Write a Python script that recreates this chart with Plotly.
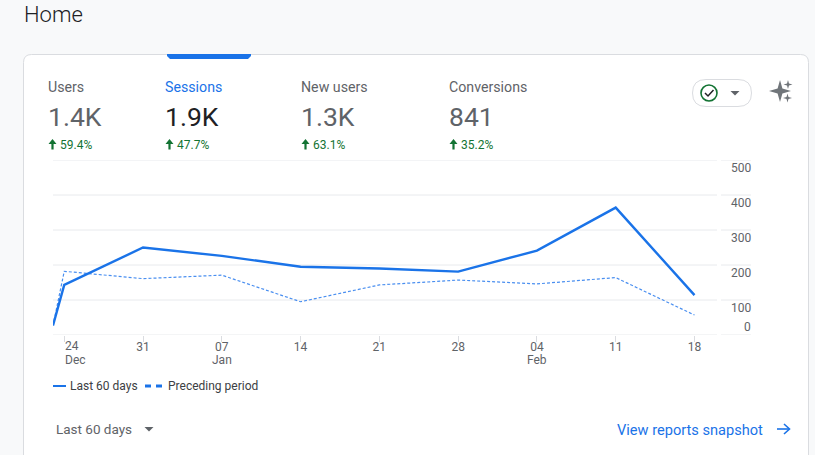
import plotly.graph_objects as go

W, H = 815, 455

dates = ["2023-12-23", "2023-12-24", "2023-12-31", "2024-01-07", "2024-01-14",
         "2024-01-21", "2024-01-28", "2024-02-04", "2024-02-11", "2024-02-18"]
last_60_days = [27, 143, 250, 226, 195, 190, 181, 241, 364, 114]
preceding_period = [27, 182, 161, 171, 95, 143, 157, 146, 164, 57]

tick_dates = ["2023-12-24", "2023-12-31", "2024-01-07", "2024-01-14", "2024-01-21",
              "2024-01-28", "2024-02-04", "2024-02-11", "2024-02-18"]
tick_labels = ["", "31", "07", "14", "21", "28", "04", "11", "18"]
month_dates = ["2024-01-07", "2024-02-04"]
month_labels = ["Jan", "Feb"]
y_ticks = [0, 100, 200, 300, 400, 500]

metric_names = ["Users", "Sessions", "New users", "Conversions"]
metric_values = ["1.4K", "1.9K", "1.3K", "841"]
metric_changes = ["59.4%", "47.7%", "63.1%", "35.2%"]
metric_left = [48, 165, 301, 449]

BLUE = "#1a73e8"
GREY = "#5f6368"
GREEN = "#137333"
FONT = "Roboto"


def fx(v):
    return v / W


def fy(v):
    return 1 - v / H


def label(x, y, text, size=12, color=GREY, anchor="left", weight=400, family=FONT):
    return dict(x=fx(x), y=fy(y), xref="paper", yref="paper", text=text, showarrow=False,
                xanchor=anchor, yanchor="middle", borderpad=0, borderwidth=0,
                font=dict(family=family, size=size, color=color, weight=weight))


def path(points, close=True):
    d = "M " + " L ".join(f"{fx(a):.5f},{fy(b):.5f}" for a, b in points)
    return d + (" Z" if close else "")


fig = go.Figure()
fig.add_trace(go.Scatter(x=dates, y=preceding_period, name="Preceding period", mode="lines",
                         line=dict(color="#4a8ff0", width=1.2, dash="3px,2px")))
fig.add_trace(go.Scatter(x=dates, y=last_60_days, name="Last 60 days", mode="lines",
                         line=dict(color=BLUE, width=2.4)))

# card background, tab marker
x0, x1, y0, y1, r = fx(23.5), fx(808.5), fy(54.5), fy(470), 8 / W
ry = 8 / H
card = (f"M {x0},{y1} L {x0},{y0 - ry} Q {x0},{y0} {x0 + r},{y0} "
        f"L {x1 - r},{y0} Q {x1},{y0} {x1},{y0 - ry} L {x1},{y1} Z")
shapes = [dict(type="path", xref="paper", yref="paper", path=card, fillcolor="white",
               line=dict(color="#dadce0", width=1), layer="below")]
shapes.append(dict(type="path", xref="paper", yref="paper", fillcolor=BLUE, line_width=0,
                   path=path([(167, 54), (251, 54), (251, 56), (248, 59), (170, 59), (167, 56)])))

# grid lines drawn by hand: the plot part plus the stub under the y labels
for t in y_ticks:
    for a, b in [(53, 717), (721, 751)]:
        shapes.append(dict(type="line", xref="paper", yref="y", x0=fx(a), x1=fx(b), y0=t, y1=t,
                           line=dict(color="#e8eaed", width=1), layer="below"))

# legend
shapes.append(dict(type="line", xref="paper", yref="paper", x0=fx(53), x1=fx(66), y0=fy(386), y1=fy(386),
                   line=dict(color=BLUE, width=2)))
for a, b in [(145, 151), (156, 162)]:
    shapes.append(dict(type="line", xref="paper", yref="paper", x0=fx(a), x1=fx(b), y0=fy(386), y1=fy(386),
                       line=dict(color=BLUE, width=3)))

# dropdown pill, check icon, triangles
px0, px1, py0, py1 = fx(692.5), fx(751.5), fy(79.5), fy(106.5)
rx, rr = 13.5 / W, 13.5 / H
pill = (f"M {px0 + rx},{py0} L {px1 - rx},{py0} Q {px1},{py0} {px1},{py0 - rr} Q {px1},{py1} {px1 - rx},{py1} "
        f"L {px0 + rx},{py1} Q {px0},{py1} {px0},{py1 + rr} Q {px0},{py0} {px0 + rx},{py0} Z")
shapes.append(dict(type="path", xref="paper", yref="paper", path=pill,
                   line=dict(color="#dadce0", width=1), fillcolor="white", layer="below"))
shapes.append(dict(type="circle", xref="paper", yref="paper", x0=fx(701), x1=fx(717), y0=fy(85), y1=fy(101),
                   line=dict(color=GREEN, width=1.6)))
shapes.append(dict(type="path", xref="paper", yref="paper", line=dict(color="#202124", width=1.5),
                   path=path([(705, 93), (708, 96), (713.5, 90)], close=False)))
for cx, cy in [(735, 93), (149, 429)]:
    shapes.append(dict(type="path", xref="paper", yref="paper", fillcolor=GREY, line_width=0,
                       path=path([(cx - 4.5, cy - 2), (cx + 4.5, cy - 2), (cx, cy + 2.5)])))

# sparkle icon
for cx, cy, s in [(780, 91, 11), (788, 84.5, 4.5), (787.5, 98, 4.5)]:
    k = s * 0.22
    shapes.append(dict(type="path", xref="paper", yref="paper", fillcolor="#70757a", line_width=0,
                       path=path([(cx, cy - s), (cx + k, cy - k), (cx + s, cy), (cx + k, cy + k),
                                  (cx, cy + s), (cx - k, cy + k), (cx - s, cy), (cx - k, cy - k)])))

# link arrow
shapes.append(dict(type="path", xref="paper", yref="paper", line=dict(color=BLUE, width=1.6),
                   path=path([(777, 429), (789, 429)], close=False)))
shapes.append(dict(type="path", xref="paper", yref="paper", line=dict(color=BLUE, width=1.6),
                   path=path([(784, 424), (789.5, 429), (784, 434)], close=False)))

annotations = [label(24, 15, "Home", size=22, color="#202124", weight=300)]
for i, name in enumerate(metric_names):
    left = metric_left[i]
    selected = name == "Sessions"
    annotations.append(label(left - 0.5 if selected else left, 87.5, name, size=14.2, color=BLUE if selected else GREY))
    annotations.append(label(left, 116.5, metric_values[i], size=26.5,
                             color="#202124" if selected else GREY))
    # up arrow icon
    ax = left + 4.5
    shapes.append(dict(type="path", xref="paper", yref="paper", fillcolor=GREEN, line_width=0,
                       path=path([(ax, 139), (ax + 4, 144), (ax + 1.1, 144), (ax + 1.1, 149.5),
                                  (ax - 1.1, 149.5), (ax - 1.1, 144), (ax - 4, 144)])))
    annotations.append(label(left + 12, 144.5, metric_changes[i], size=12, color=GREEN))

for t in y_ticks:
    annotations.append(dict(x=fx(752), y=t, xref="paper", yref="y", text=str(t), showarrow=False,
                            xanchor="right", yanchor="bottom" if t == 0 else "top",
                            yshift=0, borderpad=0,
                            font=dict(family=FONT, size=12, color=GREY)))

for d, m in zip(month_dates, month_labels):
    annotations.append(dict(x=d, y=fy(359.5), xref="x", yref="paper", text=m, showarrow=False,
                            xanchor="center", yanchor="middle", borderpad=0,
                            font=dict(family=FONT, size=12, color=GREY)))

annotations.append(label(65, 346, "24", size=12))
annotations.append(label(65, 359.5, "Dec", size=12))
annotations.append(label(70, 386, "Last 60 days", size=12, color="#3c4043"))
annotations.append(label(168, 386, "Preceding period", size=12, color="#3c4043"))
annotations.append(label(56, 429, "Last 60 days", size=13.5, color=GREY))
annotations.append(label(617, 430, "View reports snapshot", size=14.6, color=BLUE))

fig.update_layout(
    width=W, height=H,
    margin=dict(l=0, r=0, t=0, b=0),
    paper_bgcolor="#f8f9fa",
    plot_bgcolor="rgba(0,0,0,0)",
    showlegend=False,
    shapes=shapes,
    annotations=annotations,
    font=dict(family=FONT, size=12, color=GREY),
    xaxis=dict(domain=[fx(53), fx(717)], range=["2023-12-23", "2024-02-20"], type="date",
               tickmode="array", tickvals=tick_dates, ticktext=tick_labels,
               ticks="outside", ticklen=6, tickcolor="#dadce0", tickwidth=1,
               ticklabelstandoff=-5, showgrid=False, zeroline=False, showline=False, tickangle=0),
    yaxis=dict(domain=[fy(335), fy(160)], range=[0, 500], showticklabels=False,
               showgrid=False, zeroline=False, showline=False, ticks=""),
)

fig.write_html("out.html", config=dict(displayModeBar=False),
               post_script="document.body.style.margin='0';document.body.style.overflow='hidden';")
